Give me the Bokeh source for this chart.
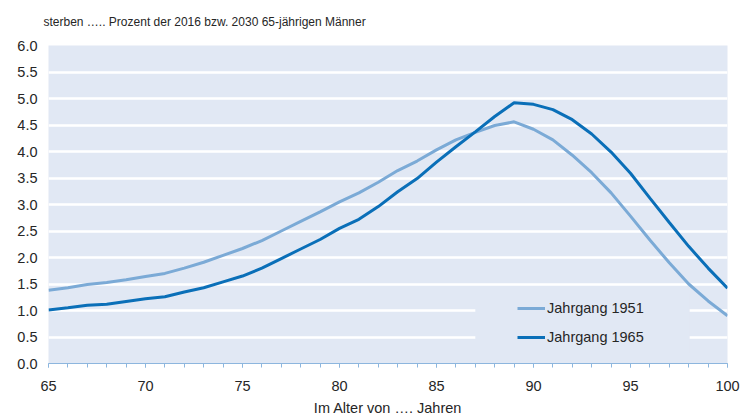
from bokeh.plotting import figure
from bokeh.models import SingleIntervalTicker, FixedTicker, Legend, LegendItem, BoxAnnotation, NumeralTickFormatter, Range1d
from bokeh.embed import file_html
from bokeh.resources import INLINE

ages = list(range(65, 101))
jg1951 = [1.38, 1.43, 1.49, 1.53, 1.58, 1.64, 1.70, 1.80, 1.91, 2.04, 2.17, 2.32, 2.50, 2.68,
          2.86, 3.05, 3.22, 3.42, 3.64, 3.82, 4.03, 4.22, 4.36, 4.49, 4.56, 4.42, 4.22, 3.93,
          3.60, 3.22, 2.78, 2.33, 1.90, 1.50, 1.18, 0.90]
jg1965 = [1.01, 1.05, 1.10, 1.12, 1.17, 1.22, 1.26, 1.35, 1.43, 1.54, 1.65, 1.80, 1.98, 2.16,
          2.34, 2.55, 2.72, 2.96, 3.24, 3.49, 3.80, 4.09, 4.37, 4.66, 4.92, 4.89, 4.79, 4.60,
          4.33, 3.99, 3.59, 3.12, 2.66, 2.21, 1.80, 1.42]
y_ticks = [0.0, 0.5, 1.0, 1.5, 2.0, 2.5, 3.0, 3.5, 4.0, 4.5, 5.0, 5.5, 6.0]
labels = ["Jahrgang 1951", "Jahrgang 1965"]
title_text = "sterben \u2026.. Prozent der 2016 bzw. 2030 65-j\u00e4hrigen M\u00e4nner"
xlabel_text = "Im Alter von \u2026. Jahren"

FONT = "Liberation Sans"
TXT = "#262626"
BG = "#E1E8F4"
C1 = "#7BAAD6"
C2 = "#0A6FB8"
FS = "14.5px"

p = figure(width=740, height=418, output_backend="svg", toolbar_location=None,
           x_range=Range1d(65, 100), y_range=Range1d(0, 6),
           min_border_left=48, min_border_right=13, min_border_top=45, min_border_bottom=53,
           background_fill_color=BG, border_fill_color="white")
p.outline_line_color = None

p.title.text = title_text
p.title.text_font = FONT
p.title.text_font_size = "12px"
p.title.text_font_style = "normal"
p.title.text_color = TXT
p.title.align = "left"
p.title.offset = -5
p.title.padding = dict(top=0, right=0, bottom=12, left=0)

# grid
p.xgrid.grid_line_color = None
p.ygrid.ticker = FixedTicker(ticks=y_ticks)
p.ygrid.grid_line_color = "white"
p.ygrid.grid_line_width = 2.5

# y axis
p.yaxis.ticker = FixedTicker(ticks=y_ticks)
p.yaxis.formatter = NumeralTickFormatter(format="0.0")
p.yaxis.axis_line_color = None
p.yaxis.major_tick_line_color = None
p.yaxis.minor_tick_line_color = None
p.yaxis.major_tick_out = 0
p.yaxis.major_tick_in = 0
p.yaxis.minor_tick_out = 0
p.yaxis.major_label_text_font = FONT
p.yaxis.major_label_text_font_size = FS
p.yaxis.major_label_text_color = TXT
p.yaxis.major_label_standoff = 11

# x axis
p.xaxis.ticker = SingleIntervalTicker(interval=5, num_minor_ticks=5)
p.xaxis.axis_line_color = "#8DB6DE"
p.xaxis.major_tick_line_color = "#8DB6DE"
p.xaxis.minor_tick_line_color = "#8DB6DE"
p.xaxis.major_tick_in = 0
p.xaxis.major_tick_out = 4
p.xaxis.minor_tick_in = 0
p.xaxis.minor_tick_out = 4
p.xaxis.major_label_text_font = FONT
p.xaxis.major_label_text_font_size = FS
p.xaxis.major_label_text_color = TXT
p.xaxis.major_label_standoff = 13
p.xaxis.axis_label = xlabel_text
p.xaxis.axis_label_text_font = FONT
p.xaxis.axis_label_text_font_size = FS
p.xaxis.axis_label_text_font_style = "normal"
p.xaxis.axis_label_text_color = TXT
p.xaxis.axis_label_standoff = 6

# legend backdrop hiding gridlines
p.add_layout(BoxAnnotation(left=87.0, right=98.05, bottom=0.2, top=1.3,
                           fill_color=BG, fill_alpha=1.0, line_color=None, level="underlay"))

r1 = p.line(ages, jg1951, line_color=C1, line_width=3)
r2 = p.line(ages, jg1965, line_color=C2, line_width=3)

legend = Legend(items=[LegendItem(label=labels[0], renderers=[r1]),
                       LegendItem(label=labels[1], renderers=[r2])],
                location=(469, 16), orientation="vertical")
legend.background_fill_alpha = 0
legend.border_line_color = None
legend.padding = 0
legend.margin = 0
legend.spacing = 9
legend.glyph_width = 28
legend.glyph_height = 20
legend.label_standoff = 2
legend.label_text_font = FONT
legend.label_text_font_size = FS
legend.label_text_color = TXT
p.add_layout(legend, "center")

open("out.html", "w").write(file_html(p, INLINE))
